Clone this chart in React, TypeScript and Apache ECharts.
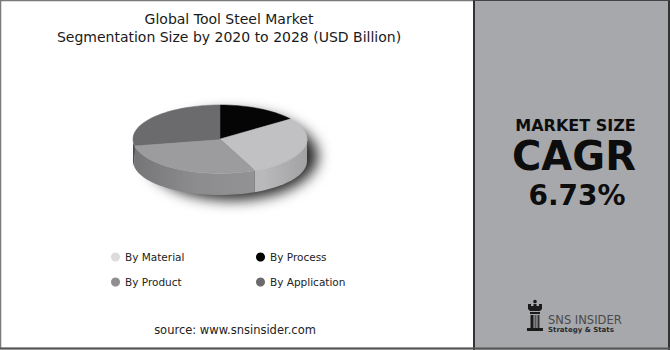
import React, { useEffect, useRef } from "react";
import * as echarts from "echarts";

// ---- data ----
const categories = ["By Process", "By Material", "By Product", "By Application"];
const values = [15, 28.5, 28.5, 28];
const topColors = ["#050505", "#c1c1c3", "#9c9c9e", "#6b6b6d"];
const sideColors = ["#000000", "#b4b4b6", "#8f8f91", "#5a5a5c"];
const legendLeft = ["By Material", "By Product"];
const legendRight = ["By Process", "By Application"];
const legendColors: Record<string, string> = {
  "By Material": "#dcdcdc",
  "By Process": "#000000",
  "By Product": "#8f8f91",
  "By Application": "#6b6b6d",
};
const titleLines = ["Global Tool Steel Market", "Segmentation Size by 2020 to 2028 (USD Billion)"];
const panelTexts = ["MARKET SIZE", "CAGR", "6.73%"];
const sourceText = "source: www.snsinsider.com";

// ---- geometry ----
const CX = 220, CY = 139, RX = 87, RY = 34, DEPTH = 22;
const total = values.reduce((a, b) => a + b, 0);

function shade(hex: string, f: number) {
  const n = parseInt(hex.slice(1), 16);
  const r = Math.min(255, Math.round(((n >> 16) & 255) * f));
  const g = Math.min(255, Math.round(((n >> 8) & 255) * f));
  const b = Math.min(255, Math.round((n & 255) * f));
  return `rgb(${r},${g},${b})`;
}

function pt(t: number, dy = 0) {
  return [CX + RX * Math.cos(t), CY - RY * Math.sin(t) + dy];
}

function arcPts(a: number, b: number, dy = 0) {
  const steps = Math.max(2, Math.ceil((Math.abs(b - a) / (Math.PI * 2)) * 120));
  const out: number[][] = [];
  for (let k = 0; k <= steps; k++) out.push(pt(a + ((b - a) * k) / steps, dy));
  return out;
}

function makeRender(i: number) {
  return (params: any, api: any) => {
    const before = values.slice(0, i).reduce((a, b) => a + b, 0);
    const v = api.value(0);
    const a0 = Math.PI / 2 - (before / total) * Math.PI * 2;
    const a1 = Math.PI / 2 - ((before + v) / total) * Math.PI * 2;
    const children: any[] = [];
    const ranges = [
      [-Math.PI, 0],
      [-3 * Math.PI, -2 * Math.PI],
    ];
    const sc = sideColors[i];
    for (const [lo, hi] of ranges) {
      const s = Math.max(a1, lo);
      const e = Math.min(a0, hi);
      if (s < e) {
        const topEdge = arcPts(e, s, 0);
        const bottom = arcPts(s, e, DEPTH);
        children.push({
          type: "polygon",
          shape: { points: topEdge.concat(bottom) },
          style: {
            fill: {
              type: "linear",
              x: CX - RX,
              y: 0,
              x2: CX + RX,
              y2: 0,
              global: true,
              colorStops: [
                { offset: 0, color: shade(sc, 0.82) },
                { offset: 0.35, color: shade(sc, 0.98) },
                { offset: 0.75, color: shade(sc, 1.03) },
                { offset: 1, color: shade(sc, 0.9) },
              ],
            },
            stroke: null,
          },
        });
        children.push({
          type: "polyline",
          shape: { points: topEdge },
          style: { stroke: "rgba(255,255,255,0.5)", lineWidth: 1, fill: null },
        });
      }
    }
    const topPts = [[CX, CY]].concat(arcPts(a0, a1, 0));
    children.push({
      type: "polygon",
      shape: { points: topPts },
      style: { fill: topColors[i], stroke: topColors[i], lineWidth: 0.5 },
    });
    return { type: "group", children };
  };
}

export default function App() {
  const ref = useRef<HTMLDivElement>(null);
  useEffect(() => {
    if (!ref.current) return;
    const chart = echarts.init(ref.current, null, { renderer: "svg" });
    const legendBase = {
      orient: "vertical",
      top: 250,
      padding: 0,
      itemWidth: 9,
      itemHeight: 9,
      itemGap: 11,
      icon: "circle",
      selectedMode: false,
      textStyle: { fontFamily: "DejaVu Sans", fontSize: 10.5, color: "#222", lineHeight: 14 },
    };
    const txt = (
      text: string,
      x: number,
      y: number,
      font: string,
      fill: string,
      lineHeight: number,
      align = "center"
    ) => ({
      type: "text",
      z: 5,
      style: {
        text,
        x,
        y,
        font,
        fill,
        lineHeight,
        textAlign: align,
        align,
        textVerticalAlign: "middle",
        verticalAlign: "middle",
      },
    });
    chart.setOption({
      animation: false,
      backgroundColor: "#ffffff",
      title: {
        text: titleLines.join("\n"),
        left: 229,
        top: 10,
        textAlign: "center",
        padding: 0,
        textStyle: {
          fontFamily: "DejaVu Sans",
          fontSize: 14,
          fontWeight: "normal",
          color: "#1a1a1a",
          lineHeight: 18,
        },
      },
      legend: [
        { ...legendBase, left: 111, data: legendLeft.map((n) => ({ name: n, itemStyle: { color: legendColors[n] } })) },
        { ...legendBase, left: 256, data: legendRight.map((n) => ({ name: n, itemStyle: { color: legendColors[n] } })) },
      ],
      graphic: [
        {
          type: "rect",
          z: 0,
          shape: { x: 0.5, y: 0.5, width: 669, height: 348 },
          style: { fill: "#ffffff", stroke: "#7a7a7a", lineWidth: 1.5 },
        },
        {
          type: "ellipse",
          z: 1,
          shape: { cx: CX, cy: CY + DEPTH / 2, rx: RX - 1, ry: RY + DEPTH / 2 - 1 },
          style: {
            fill: "#444",
            shadowBlur: 14,
            shadowColor: "rgba(0,0,0,0.85)",
            shadowOffsetX: 12,
            shadowOffsetY: 6,
          },
        },
        {
          type: "rect",
          z: 1,
          shape: { x: 473, y: 0, width: 197, height: 350 },
          style: { fill: "#a7a8ac", stroke: null },
        },
        { type: "line", z: 2, shape: { x1: 474, y1: 0, x2: 474, y2: 350 }, style: { stroke: "#333", lineWidth: 2 } },
        { type: "line", z: 2, shape: { x1: 669, y1: 0, x2: 669, y2: 350 }, style: { stroke: "#333", lineWidth: 2 } },
        { type: "line", z: 2, shape: { x1: 474, y1: 0.5, x2: 670, y2: 0.5 }, style: { stroke: "#444", lineWidth: 1 } },
        { type: "line", z: 2, shape: { x1: 0, y1: 348.5, x2: 670, y2: 348.5 }, style: { stroke: "#555", lineWidth: 2 } },
        txt(panelTexts[0], 575.5, 125, "bold 16px 'DejaVu Sans'", "#0d0d0d", 16),
        txt(panelTexts[1], 574, 156, "bold 40px 'DejaVu Sans'", "#0d0d0d", 32),
        txt(panelTexts[2], 577, 195, "bold 28px 'DejaVu Sans'", "#0d0d0d", 24),
        txt(sourceText, 235, 330, "11.5px 'DejaVu Sans'", "#222", 14),
        txt("SNS INSIDER", 548, 320, "11.5px 'DejaVu Sans'", "#4a4a4a", 12, "left"),
        txt("Strategy & Stats", 548, 330, "bold 7px 'DejaVu Sans'", "#2a2a2a", 8, "left"),
        // rook logo
        { type: "circle", z: 5, shape: { cx: 535, cy: 301.5, r: 1.8 }, style: { fill: "#1a1a1a" } },
        {
          type: "polygon",
          z: 5,
          shape: {
            points: [
              [528, 304], [531, 304], [531, 306], [533.5, 306], [533.5, 304], [536.5, 304], [536.5, 306],
              [539, 306], [539, 304], [542, 304], [542, 309], [540, 311], [530, 311], [528, 309],
            ],
          },
          style: { fill: "#1a1a1a" },
        },
        { type: "rect", z: 5, shape: { x: 530, y: 312, width: 10, height: 2 }, style: { fill: "#1a1a1a" } },
        { type: "rect", z: 5, shape: { x: 530.5, y: 315, width: 3, height: 13 }, style: { fill: "#1a1a1a" } },
        { type: "rect", z: 5, shape: { x: 534.5, y: 315, width: 2, height: 13 }, style: { fill: "#555" } },
        { type: "rect", z: 5, shape: { x: 537.5, y: 315, width: 2, height: 13 }, style: { fill: "#333" } },
        { type: "rect", z: 5, shape: { x: 527, y: 328, width: 16, height: 3 }, style: { fill: "#1a1a1a" } },
      ],
      series: categories.map((name, i) => ({
        type: "custom",
        name,
        coordinateSystem: "none",
        silent: true,
        z: 3,
        itemStyle: { color: legendColors[name] },
        data: [values[i]],
        renderItem: makeRender(i),
      })),
    });
    return () => chart.dispose();
  }, []);
  return <div ref={ref} style={{ position: "absolute", left: 0, top: 0, width: 670, height: 350 }} />;
}
